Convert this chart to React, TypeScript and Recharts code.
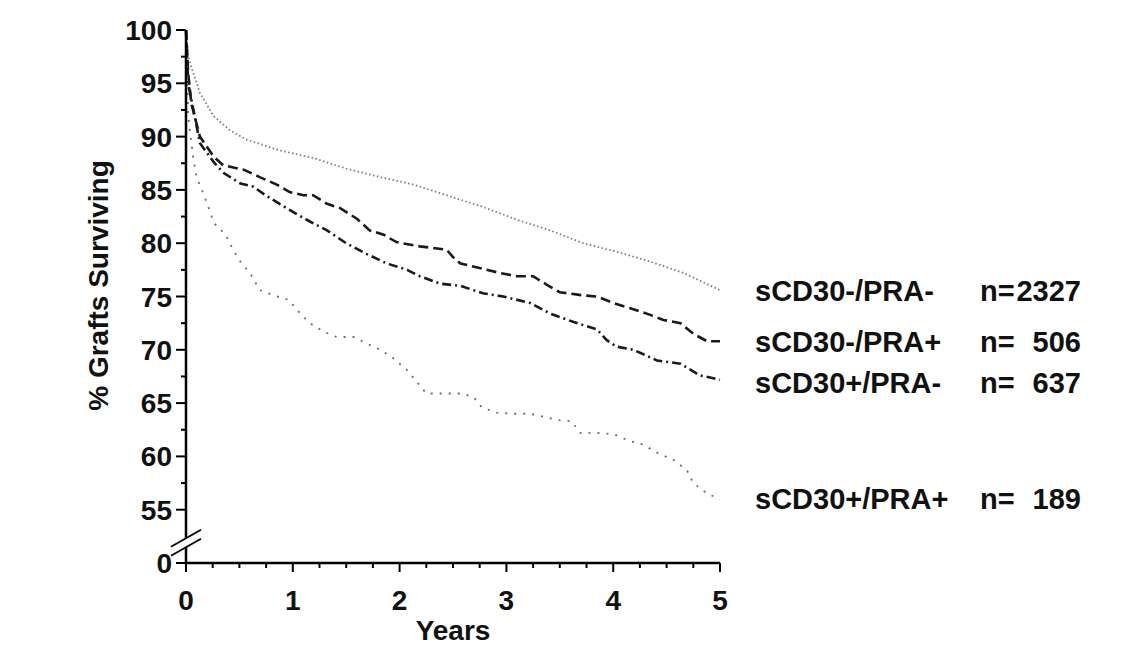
import React from "react";
import { LineChart, Line, XAxis, YAxis, ReferenceDot } from "recharts";

const FONT = '"Liberation Sans", Arial, Helvetica, sans-serif';

// Kaplan-Meier curves: years vs % grafts surviving
const yearsA = [0, 0.02, 0.07, 0.13, 0.26, 0.41, 0.57, 0.88, 1.19, 1.5, 1.82, 2.13, 2.44, 2.78, 3.1, 3.41, 3.72, 4.03, 4.34, 4.66, 5.0];
const survA = [100, 97.5, 95.9, 94.1, 91.9, 90.6, 89.7, 88.7, 88.0, 87.0, 86.2, 85.5, 84.5, 83.4, 82.2, 81.2, 80.0, 79.2, 78.3, 77.2, 75.6];

const yearsB = [0, 0.02, 0.05, 0.13, 0.26, 0.35, 0.54, 0.69, 0.85, 0.97, 1.1, 1.19, 1.32, 1.44, 1.6, 1.72, 1.85, 1.97, 2.19, 2.44, 2.5, 2.57, 2.78, 2.94, 3.1, 3.25, 3.38, 3.5, 3.72, 3.85, 4.0, 4.16, 4.34, 4.47, 4.63, 4.75, 4.88, 5.0];
const survB = [100, 96, 93.1, 90.0, 88.1, 87.3, 86.9, 86.2, 85.5, 84.8, 84.5, 84.5, 83.7, 83.3, 82.3, 81.2, 80.8, 80.1, 79.7, 79.4, 78.7, 78.1, 77.6, 77.2, 76.9, 76.9, 76.1, 75.4, 75.1, 75.0, 74.4, 73.9, 73.3, 72.8, 72.5, 71.5, 70.8, 70.8];

const yearsC = [0, 0.02, 0.07, 0.13, 0.26, 0.35, 0.51, 0.63, 0.76, 0.94, 1.13, 1.32, 1.5, 1.69, 1.88, 2.07, 2.19, 2.38, 2.57, 2.78, 2.97, 3.22, 3.41, 3.63, 3.85, 3.94, 4.03, 4.19, 4.41, 4.63, 4.81, 5.0];
const survC = [100, 95, 92.5, 89.4, 87.6, 86.6, 85.6, 85.3, 84.4, 83.3, 82.2, 81.2, 80.0, 79.0, 78.1, 77.5, 76.9, 76.2, 76.0, 75.3, 75.0, 74.4, 73.4, 72.6, 71.9, 70.9, 70.3, 70.0, 69.0, 68.7, 67.6, 67.2];

const yearsD = [0, 0.02, 0.07, 0.1, 0.16, 0.22, 0.26, 0.37, 0.44, 0.52, 0.6, 0.69, 0.82, 0.96, 1.07, 1.16, 1.29, 1.41, 1.57, 1.69, 1.82, 1.94, 2.07, 2.16, 2.25, 2.44, 2.57, 2.69, 2.77, 2.91, 3.06, 3.22, 3.36, 3.49, 3.61, 3.69, 3.85, 4.0, 4.14, 4.28, 4.42, 4.56, 4.69, 4.75, 4.88, 5.0];
const survD = [100, 92, 87.8, 86.2, 84.7, 83.1, 81.9, 80.8, 79.4, 78.1, 77.2, 75.6, 75.1, 74.7, 73.4, 72.5, 71.7, 71.2, 71.2, 70.6, 70.0, 69.2, 68.1, 67.0, 65.9, 65.9, 65.9, 65.6, 64.6, 64.1, 64.0, 64.0, 63.7, 63.4, 63.3, 62.2, 62.2, 62.1, 61.5, 61.1, 60.3, 59.7, 58.7, 57.5, 56.5, 56.0];

const groupNames = ["sCD30-/PRA-", "sCD30-/PRA+", "sCD30+/PRA-", "sCD30+/PRA+"];
const groupCounts = [2327, 506, 637, 189];

// quarter-year minor ticks, whole years labelled
const xTicks = [0, 0.25, 0.5, 0.75, 1, 1.25, 1.5, 1.75, 2, 2.25, 2.5, 2.75, 3, 3.25, 3.5, 3.75, 4, 4.25, 4.5, 4.75, 5];
// axis is broken below 55: the position 50 carries the "0" label
const yTicks = [50, 55, 57.5, 60, 62.5, 65, 67.5, 70, 72.5, 75, 77.5, 80, 82.5, 85, 87.5, 90, 92.5, 95, 97.5, 100];
const yBreak = 51.9;

const toRows = (xs: number[], ys: number[]) => xs.map((t, i) => ({ t, v: ys[i] }));
const seriesA = toRows(yearsA, survA);
const seriesB = toRows(yearsB, survB);
const seriesC = toRows(yearsC, survC);
const seriesD = toRows(yearsD, survD);

const textStyle = { fontFamily: FONT, fontWeight: 700, fill: "#111" };

function YTick({ x, y, payload }: any) {
  const v = payload.value;
  const major = v % 5 === 0;
  return (
    <g>
      <line x1={x - (major ? 10 : 5)} x2={x} y1={y} y2={y} stroke="#000" strokeWidth={2} />
      {major && (
        <text x={x - 14} y={y} dy="0.36em" textAnchor="end" fontSize={28} {...textStyle}>
          {v === 50 ? "0" : v}
        </text>
      )}
    </g>
  );
}

function XTick({ x, y, payload }: any) {
  const v = payload.value;
  const major = Number.isInteger(v);
  return (
    <g>
      <line x1={x} x2={x} y1={y} y2={y + (major ? 9 : 5)} stroke="#000" strokeWidth={2} />
      {major && (
        <text x={x} y={y + 47} textAnchor="middle" fontSize={28} {...textStyle}>
          {v}
        </text>
      )}
    </g>
  );
}

function BreakMark({ cx, cy }: any) {
  const a = { x1: cx - 15, y1: cy - 4.5 + 8.5, x2: cx + 15, y2: cy - 4.5 - 8.5 };
  const b = { x1: cx - 15, y1: cy + 4.5 + 8.5, x2: cx + 15, y2: cy + 4.5 - 8.5 };
  return (
    <g>
      <polygon points={`${a.x1},${a.y1} ${a.x2},${a.y2} ${b.x2},${b.y2} ${b.x1},${b.y1}`} fill="#fff" />
      <line {...a} stroke="#000" strokeWidth={1.8} />
      <line {...b} stroke="#000" strokeWidth={1.8} />
    </g>
  );
}

function EndLabel({ cx, cy, name, n, nudge }: any) {
  const y = cy + (nudge || 0);
  return (
    <g>
      <text x={cx + 35} y={y} dy="0.36em" fontSize={29} {...textStyle}>{name}</text>
      <text x={cx + 260} y={y} dy="0.36em" fontSize={29} {...textStyle}>n=</text>
      <text x={cx + 361} y={y} dy="0.36em" textAnchor="end" fontSize={29} {...textStyle}>{n}</text>
    </g>
  );
}

const lines = [
  { data: seriesA, end: survA[survA.length - 1], stroke: "#7a7a7a", width: 1.8, dash: "1.5 2.5", nudge: 0 },
  { data: seriesB, end: survB[survB.length - 1], stroke: "#1a1a1a", width: 2.6, dash: "10 5", nudge: 0 },
  { data: seriesC, end: survC[survC.length - 1], stroke: "#1a1a1a", width: 2.6, dash: "9 4 2 4", nudge: 3 },
  { data: seriesD, end: survD[survD.length - 1], stroke: "#6a6a6a", width: 1.8, dash: "2 7", nudge: 0 },
];

export default function App() {
  return (
    <div style={{ position: "absolute", left: 0, top: 0, width: 1140, height: 648, background: "#fff" }}>
      <LineChart width={1140} height={648} margin={{ top: 30, right: 420, bottom: 35, left: 86 }}>
        <XAxis
          type="number"
          dataKey="t"
          domain={[0, 5]}
          ticks={xTicks}
          interval={0}
          tick={<XTick />}
          tickLine={false}
          tickSize={0}
          tickMargin={0}
          height={50}
          axisLine={{ stroke: "#000", strokeWidth: 2.5 }}
          label={{
            content: ({ viewBox }: any) => (
              <text x={viewBox.x + viewBox.width / 2} y={viewBox.y + 77} textAnchor="middle" fontSize={28} {...textStyle}>
                Years
              </text>
            ),
          }}
        />
        <YAxis
          type="number"
          domain={[50, 100]}
          ticks={yTicks}
          interval={0}
          tick={<YTick />}
          tickLine={false}
          tickSize={0}
          tickMargin={0}
          width={100}
          axisLine={{ stroke: "#000", strokeWidth: 2.5 }}
          label={{
            content: ({ viewBox }: any) => {
              const cx = viewBox.x + 12;
              const cy = viewBox.y + viewBox.height / 2 - 11;
              return (
                <text x={cx} y={cy} dy="0.36em" textAnchor="middle" fontSize={28} transform={`rotate(-90 ${cx} ${cy})`} {...textStyle}>
                  % Grafts Surviving
                </text>
              );
            },
          }}
        />
        {lines.map((l, i) => (
          <Line
            key={groupNames[i]}
            data={l.data}
            dataKey="v"
            type="linear"
            stroke={l.stroke}
            strokeWidth={l.width}
            strokeDasharray={l.dash}
            dot={false}
            activeDot={false}
            isAnimationActive={false}
          />
        ))}
        <ReferenceDot x={0} y={yBreak} r={0} ifOverflow="visible" shape={(p: any) => <BreakMark {...p} />} />
        {lines.map((l, i) => (
          <ReferenceDot
            key={"lab" + i}
            x={5}
            y={l.end}
            r={0}
            ifOverflow="visible"
            shape={(p: any) => <EndLabel {...p} name={groupNames[i]} n={groupCounts[i]} nudge={l.nudge} />}
          />
        ))}
      </LineChart>
    </div>
  );
}
